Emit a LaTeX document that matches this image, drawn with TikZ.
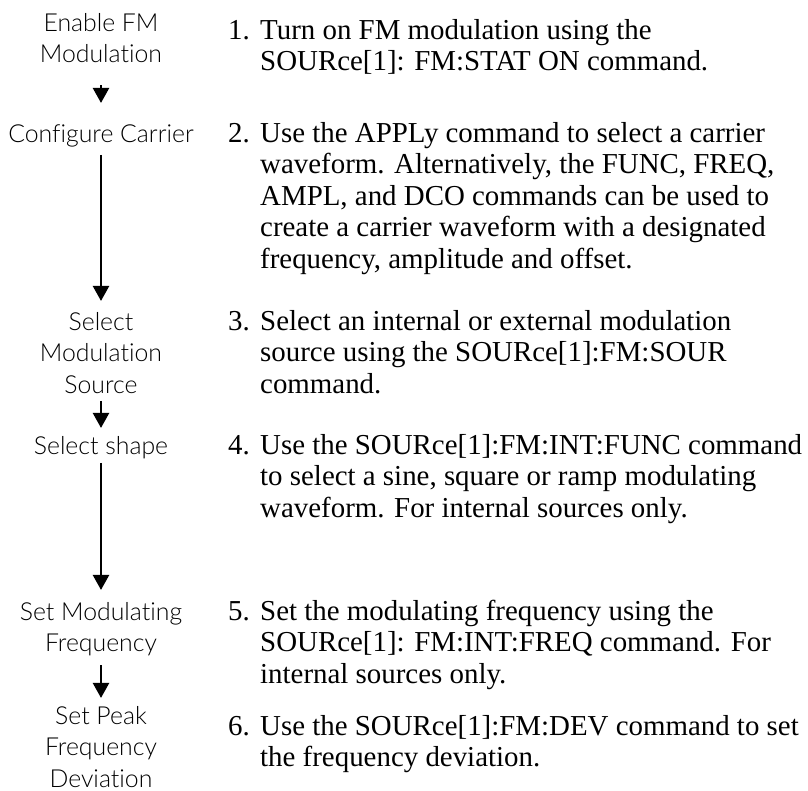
\documentclass[tikz,border=0pt]{standalone}
\usepackage{fontspec}
\newfontfamily\lblfont{Lato Light}[Ligatures={NoCommon}]
\newfontfamily\palfont{Liberation Serif}
\usetikzlibrary{arrows.meta}
\newcommand\stepnum[1]{\makebox[32pt][l]{#1}}
\newcommand\stepind{\hspace*{32pt}}
\begin{document}
\begin{tikzpicture}[x=1pt,y=-1pt,
  lbl/.style={font=\lblfont\fontsize{24.8}{31.5}\selectfont, align=center, inner sep=0pt, anchor=north},
  txt/.style={font=\palfont\fontsize{28.9}{31.5}\selectfont, align=left, inner sep=0pt, anchor=north west},
  arr/.style={line width=2.4pt, -{Triangle[width=16pt,length=15pt]}}]
\useasboundingbox (0,0) rectangle (808,791);
% left flow labels
\node[lbl] (l1) at (101,8.95) {\strut Enable FM\\Modulation\strut};
\node[lbl] (l2) at (101,119.95) {\strut Configure Carrier\strut};
\node[lbl] (l3) at (101,307.95) {\strut Select\\Modulation\\Source\strut};
\node[lbl] (l4) at (101,431.95) {\strut Select shape\strut};
\node[lbl] (l5) at (101,597.95) {\strut Set Modulating\\Frequency\strut};
\node[lbl] (l6) at (101,701.95) {\strut Set Peak\\Frequency\\Deviation\strut};
% arrows
\draw[arr, shorten <=13pt, shorten >=17pt] (l1.south) -- (l2.north);
\draw[arr, shorten <=3pt, shorten >=7pt] (l2.south) -- (l3.north);
\draw[arr, shorten <=-2pt, shorten >=4pt] (l3.south) -- (l4.north);
\draw[arr, shorten <=-1pt, shorten >=8pt] (l4.south) -- (l5.north);
\draw[arr, shorten <=4pt, shorten >=4pt] (l5.south) -- (l6.north);
% step texts
\node[txt] (t1) at (228,16.95) {\strut\stepnum{1.}Turn on FM modulation using the\\\stepind SOURce[1]: FM:STAT ON command.};
\node[txt] (t2) at (228,119.95) {\strut\stepnum{2.}Use the APPLy command to select a carrier\\\stepind waveform. Alternatively, the FUNC, FREQ,\\\stepind AMPL, and DCO commands can be used to\\\stepind create a carrier waveform with a designated\\\stepind frequency, amplitude and offset.};
\node[txt] (t3) at (228,307.95) {\strut\stepnum{3.}Select an internal or external modulation\\\stepind source using the SOURce[1]:FM:SOUR\\\stepind command.};
\node[txt] (t4) at (228,431.95) {\strut\stepnum{4.}Use the SOURce[1]:FM:INT:FUNC command\\\stepind to select a sine, square or ramp modulating\\\stepind waveform. For internal sources only.};
\node[txt] (t5) at (228,597.95) {\strut\stepnum{5.}Set the modulating frequency using the\\\stepind SOURce[1]: FM:INT:FREQ command. For\\\stepind internal sources only.};
\node[txt] (t6) at (228,712.95) {\strut\stepnum{6.}Use the SOURce[1]:FM:DEV command to set\\\stepind the frequency deviation.};
\end{tikzpicture}
\end{document}
